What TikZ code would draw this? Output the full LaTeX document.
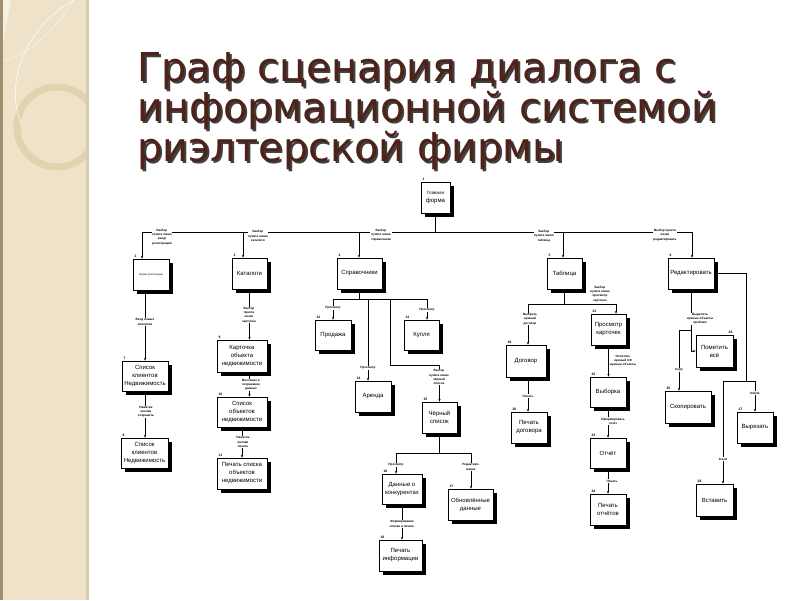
\documentclass[tikz,border=0pt]{standalone}
\usepackage{fontspec}
\setmainfont{Liberation Sans}
\newfontfamily\titlefont{DejaVu Sans}
\usetikzlibrary{arrows.meta,calc}
\definecolor{titlec}{HTML}{4E2219}
\definecolor{sidebg}{HTML}{EEE3C8}
\definecolor{sidelight}{HTML}{F6F0E1}
\definecolor{sideedge}{HTML}{A08F6E}
\definecolor{sideright}{HTML}{D8CCAE}
\definecolor{ringc}{HTML}{E0D0AC}
\tikzset{
  boxn/.style={draw, line width=0.9pt, fill=white, align=center, inner sep=0.5pt,
    font=\fontsize{6}{8}\selectfont},
  numl/.style={font=\fontsize{3.4}{4}\selectfont\bfseries, inner sep=0.4pt},
  lbl/.style={fill=white, inner sep=0.6pt, align=center,
    font=\fontsize{3.1}{4.2}\selectfont\bfseries},
  ln/.style={line width=0.9pt},
  arr/.style={line width=0.9pt, -{Stealth[length=2.6pt,width=2.4pt]}},
  ttl/.style={anchor=base west, inner sep=0pt, text=titlec,
    font=\titlefont\fontsize{39.8}{44}\selectfont}
}
% title text with drop shadow in one node
\newcommand\shtext[1]{\makebox[0pt][l]{\hspace{2pt}\raisebox{-2pt}{\color{black!75}#1}}#1}
% name, x1, y1, x2, y2, text, number
\newcommand\bx[7]{%
  \fill[black] (#2+3.5,#3+3.5) rectangle (#4+3.5,#5+3.5);
  \node[boxn, minimum width={#4-#2}, minimum height={#5-#3}] (#1)
    at ({(#2+#4)/2},{(#3+#5)/2}) {#6};
  \node[numl, anchor=south west] at (#2+1,#3-0.5) {#7};
}
\begin{document}
\begin{tikzpicture}[x=1pt,y=-1pt]
\useasboundingbox (0,0) rectangle (800,600);
\fill[white] (0,0) rectangle (800,600);
% sidebar
\begin{scope}
  \clip (0,0) rectangle (88,600);
  \fill[sidebg] (0,0) rectangle (88,600);
  \fill[sidelight] (0,0) -- (74,0) arc[start angle=-20, end angle=-70, radius=90] -- (0,62) -- cycle;
  \draw[ringc, line width=7pt, opacity=0.85] (57,127) circle (40);
  \draw[white, line width=0.7pt, opacity=0.8] (74,0) .. controls (20,30) and (5,90) .. (22,125);
  \draw[white, line width=0.5pt, opacity=0.7] (0,62) .. controls (30,55) and (55,30) .. (74,0);
\end{scope}
\fill[sideedge] (0,0) rectangle (2.5,600);
\fill[sideright] (86,0) rectangle (89,600);

% title
\node[ttl] (t1) at (137,81) {\shtext{Граф сценария диалога с}};
\node[ttl] (t2) at (137,121) {\shtext{информационной системой}};
\node[ttl] (t3) at (137,161) {\shtext{риэлтерской фирмы}};

% boxes
\bx{main}{421}{182}{450}{213}{\fontsize{4.6}{6.5}\selectfont Главная\\форма}{1}
\bx{n2}{133}{259}{169}{290}{\fontsize{2.6}{3}\selectfont Форма регистрации}{2}
\bx{n3}{232}{258}{267}{289}{Каталоги}{3}
\bx{n4}{337}{258}{382}{289}{Справочники}{4}
\bx{n5}{547}{258}{582}{289}{Таблица}{5}
\bx{n6}{668}{258}{714}{289}{Редактировать}{6}
\bx{n7}{122}{361}{168}{391}{Список\\клиентов\\Недвижимость}{7}
\bx{n8}{121}{438}{168}{468}{Список\\клиентов\\Недвижимость}{8}
\bx{n9}{217}{340}{267}{372}{Карточка\\объекта\\недвижимости}{9}
\bx{n10}{217}{397}{267}{427}{Список\\объектов\\недвижимости}{10}
\bx{n11}{217}{458}{267}{489}{Печать списка\\объектов\\недвижимости}{11}
\bx{n12}{315}{320}{351}{350}{Продажа}{12}
\bx{n13}{404}{320}{439}{350}{Купля}{13}
\bx{n14}{355}{381}{391}{412}{Аренда}{14}
\bx{n15}{422}{402}{457}{433}{Чёрный\\список}{15}
\bx{n16}{382}{474}{422}{504}{Данные о\\конкурентах}{16}
\bx{n17}{448}{489}{493}{520}{Обновлённые\\данные}{17}
\bx{n18}{379}{540}{422}{571}{Печать\\информации}{18}
\bx{n19}{506}{345}{546}{377}{Договор}{19}
\bx{n20}{511}{412}{547}{443}{Печать\\договора}{20}
\bx{n21}{591}{314}{626}{345}{Просмотр\\карточек}{21}
\bx{n22}{590}{377}{626}{407}{Выборка}{22}
\bx{n23}{590}{438}{626}{468}{Отчёт}{23}
\bx{n24}{590}{494}{626}{525}{Печать\\отчётов}{24}
\bx{n25}{665}{391}{711}{423}{Скопировать}{25}
\bx{n26}{696}{335}{733}{367}{Пометить\\всё}{}
\node[numl, anchor=south east] at (733,334.5) {26};
\bx{n27}{737}{412}{773}{443}{Вырезать}{27}
\bx{n28}{696}{484}{733}{516}{Вставить}{28}

% main bus
\coordinate (bL) at (142,232);
\coordinate (bR) at (692,232);
\coordinate (d3) at (243,232);
\coordinate (d4) at (359,232);
\coordinate (d5) at (563,232);
\draw[ln] (bL) -- (bR);
\draw[ln] (main.south) -- (main.south |- bL);
\draw[arr] (bL) -- (bL |- n2.north);
\draw[arr] (d3) -- (d3 |- n3.north);
\draw[arr] (d4) -- (d4 |- n4.north);
\draw[arr] (d5) -- (d5 |- n5.north);
\draw[arr] (bR) -- (bR |- n6.north);

% left column
\draw[arr] (n2.south -| n7.north) -- (n7.north);
\draw[arr] (n7.south) -- (n7.south |- n8.north);
% catalogs
\draw[arr] (n3.south) -- (n3.south |- n9.north);
\draw[arr] (n9.south -| n3.south) -- (n3.south |- n10.north);
\draw[arr] (n10.south) -- (n11.north);

% reference books
\coordinate (sbL) at (333,299);
\coordinate (sbR) at (427,299);
\coordinate (s14) at (368,299);
\coordinate (s15) at (390,299);
\coordinate (s15b) at (390,365);
\draw[ln] (sbL) -- (sbR);
\draw[ln] (n4.south) -- (n4.south |- sbL);
\draw[arr] (sbL) -- (sbL |- n12.north);
\draw[arr] (s14) -- (s14 |- n14.north);
\draw[arr] (s15) -- (s15b) -| (n15.north);
\draw[arr] (sbR) -- (sbR |- n13.north);
% black list
\coordinate (cbL) at (396,453);
\coordinate (cbR) at (471,453);
\draw[ln] (n15.south) -- (n15.south |- cbL);
\draw[ln] (cbL) -- (cbR);
\draw[arr] (cbL) -- (cbL |- n16.north);
\draw[arr] (cbR) -- (cbR |- n17.north);
\draw[arr] (n16.south) -- (n16.south |- n18.north);

% table
\coordinate (tbL) at (528,304);
\coordinate (tbR) at (616,304);
\draw[ln] (n5.south) -- (n5.south |- tbL);
\draw[ln] (tbL) -- (tbR);
\draw[arr] (tbL) -- (tbL |- n19.north);
\draw[arr] (tbR) -- (tbR |- n21.north);
\draw[arr] (tbL |- n19.south) -- (tbL |- n20.north);
\draw[arr] (n21.south) -- (n21.south |- n22.north);
\draw[arr] (n22.south) -- (n22.south |- n23.north);
\draw[arr] (n23.south) -- (n23.south |- n24.north);

% edit
\coordinate (rx) at (746,381);
\coordinate (rbL) at (723,381);
\coordinate (rbR) at (755,381);
\coordinate (rc) at (679,330);
\draw[ln] (n6.east) -| (rx);
\draw[ln] (rbL) -- (rbR);
\draw[arr] (rbR) -- (rbR |- n27.north);
\draw[arr] (rbL) -- (rbL |- n28.north);
\draw[arr] (n6.south) |- (n26.west);
\draw[arr] (n6.south |- rc) -- (rc) -- (rc |- n25.north);

% labels
\node[lbl] at (162,237) {Выбор\\пункта меню\\вход/\\регистрация};
\node[lbl] at (258,236) {Выбор\\пункта меню\\каталоги};
\node[lbl] at (381,235) {Выбор\\пункта меню\\справочники};
\node[lbl] at (544,236) {Выбор\\пункта меню\\таблица};
\node[lbl] at (665,235) {Выбор пункта\\меню\\редактировать};
\node[lbl] at (145,322) {Вход новых\\клиентов};
\node[lbl] at (146,412) {Нажатие\\кнопки\\сохранить};
\node[lbl] at (249,315) {Выбор\\пункта\\меню\\карточка};
\node[lbl] at (251,385) {Внесение и\\сохранение\\данных};
\node[lbl] at (243,442) {Нажатие\\кнопки\\печать};
\node[lbl] at (333,308) {Просмотр};
\node[lbl] at (427,310) {Просмотр};
\node[lbl] at (368,368) {Просмотр};
\node[lbl] at (439,377) {Выбор\\пункта меню\\чёрный\\список};
\node[lbl] at (396,465) {Просмотр};
\node[lbl] at (471,467) {Редактиро-\\вание};
\node[lbl] at (402,524) {Формирование\\списка и печать};
\node[lbl] at (530,319) {Выбрать\\нужный\\договор};
\node[lbl] at (600,294) {Выбор\\пункта меню\\просмотр\\карточек};
\node[lbl] at (528,396) {Печать};
\node[lbl] at (623,361) {Отметить\\нужный СФ\\нужные объекты};
\node[lbl] at (613,421) {Сформировать\\отчёт};
\node[lbl] at (612,481) {Печать};
\node[lbl] at (700,319) {Выделить\\нужные объекты\\проблем};
\node[lbl] at (679,370) {Copy};
\node[lbl] at (755,393) {Delete};
\node[lbl] at (723,459) {Insert};
\end{tikzpicture}
\end{document}
